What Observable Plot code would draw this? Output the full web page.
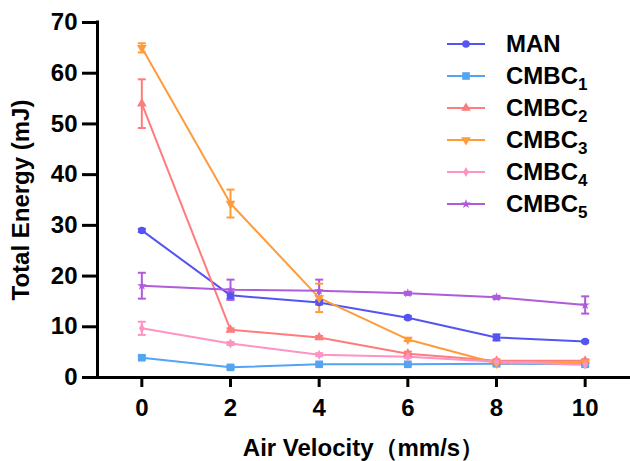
<!DOCTYPE html>
<html>
<head>
<meta charset="utf-8">
<script src="https://cdn.jsdelivr.net/npm/d3@7"></script>
<script src="https://cdn.jsdelivr.net/npm/@observablehq/plot@0.6"></script>
<style>
  body { margin: 0; background: #fff; font-family: "Liberation Sans", Arial, sans-serif; }
  #wrap { position: relative; width: 630px; height: 461px; }
  #legend { position: absolute; left: 445px; top: 28px; }
  .row { display: flex; align-items: center; height: 32px; font-weight: bold; font-size: 24px; color: #000; }
  .row svg { width: 42px; height: 20px; margin-right: 19px; }
  .row sub { font-size: 17px; vertical-align: -6px; line-height: 0; }
</style>
</head>
<body>
<div id="wrap"><div id="legend"></div></div>
<script>
// ---- data ----
const velocity = [0, 2, 4, 6, 8, 10];
const xTicks = [0, 2, 4, 6, 8, 10];
const yTicks = [0, 10, 20, 30, 40, 50, 60, 70];
const seriesNames = ["MAN", "CMBC1", "CMBC2", "CMBC3", "CMBC4", "CMBC5"];
const seriesColors = ["#5454F2", "#55A4F4", "#FF7C7C", "#FF9B3A", "#FF93C3", "#AE5BDC"];

const MAN     = [29.0, 16.2, 14.8, 11.8, 7.9, 7.1];
const CMBC1   = [3.9, 2.0, 2.6, 2.6, 2.7, 2.6];
const CMBC2   = [54.0, 9.4, 7.9, 4.7, 3.3, 3.3];
const CMBC3   = [65.0, 34.3, 15.7, 7.5, 2.8, 3.0];
const CMBC4   = [9.7, 6.7, 4.5, 4.1, 3.1, 2.5];
const CMBC5   = [18.1, 17.3, 17.1, 16.6, 15.8, 14.3];

const MAN_err   = [0.3, 0.6, 0.4, 0.3, 0.6, 0.2];
const CMBC1_err = [0.3, 0.3, 0.2, 0.2, 0.3, 0.3];
const CMBC2_err = [4.8, 0.3, 0.3, 0.4, 0.3, 0.3];
const CMBC3_err = [0.9, 2.75, 2.8, 0.3, 0.3, 0.3];
const CMBC4_err = [1.3, 0.3, 0.3, 0.3, 0.3, 0.4];
const CMBC5_err = [2.55, 2.0, 2.2, 0.3, 0.3, 1.7];

const seriesValues = [MAN, CMBC1, CMBC2, CMBC3, CMBC4, CMBC5];
const seriesErrors = [MAN_err, CMBC1_err, CMBC2_err, CMBC3_err, CMBC4_err, CMBC5_err];

const rows = seriesNames.flatMap((s, i) =>
  velocity.map((v, j) => ({series: s, v, value: seriesValues[i][j], err: seriesErrors[i][j]})));

// ---- symbols ----
const triDown = {
  draw(ctx, size) {
    const y = -Math.sqrt(size / (3 * Math.sqrt(3)));
    ctx.moveTo(0, -y * 2);
    ctx.lineTo(-Math.sqrt(3) * y, y);
    ctx.lineTo(Math.sqrt(3) * y, y);
    ctx.closePath();
  }
};
const capSymbol = {
  draw(ctx, size) {
    const w = Math.sqrt(size / Math.PI);
    ctx.moveTo(-w, 0);
    ctx.lineTo(w, 0);
  }
};
const symbols = [d3.symbolCircle, d3.symbolSquare, d3.symbolTriangle, triDown, d3.symbolDiamond, d3.symbolStar];
const symbolR = [3.8, 4.3, 3.6, 3.6, 3.0, 3.0];

const color = {domain: seriesNames, range: seriesColors};

const marks = [];
marks.push(Plot.line(rows, {x: "v", y: "value", z: "series", stroke: "series", strokeWidth: 2}));
const withErr = rows.filter(d => d.err > 0);
marks.push(Plot.ruleX(withErr, {x: "v", y1: d => d.value - d.err, y2: d => d.value + d.err, stroke: "series", strokeWidth: 2}));
marks.push(Plot.dot(withErr, {x: "v", y: d => d.value - d.err, symbol: () => capSymbol, r: 4, stroke: "series", strokeWidth: 2, fill: "none"}));
marks.push(Plot.dot(withErr, {x: "v", y: d => d.value + d.err, symbol: () => capSymbol, r: 4, stroke: "series", strokeWidth: 2, fill: "none"}));
seriesNames.forEach((s, i) => {
  marks.push(Plot.dot(rows.filter(d => d.series === s), {x: "v", y: "value", fill: "series", symbol: () => symbols[i], r: symbolR[i], stroke: "none"}));
});
marks.push(Plot.ruleX([-1], {strokeWidth: 3, stroke: "#000", strokeLinecap: "square"}));
marks.push(Plot.ruleY([0], {strokeWidth: 3, stroke: "#000", strokeLinecap: "square"}));
marks.push(Plot.axisY({ticks: yTicks, tickSize: 15, tickPadding: 5, strokeWidth: 3, fontSize: 24, fontWeight: "bold",
  label: "Total Energy (mJ)", labelAnchor: "center", labelOffset: 86, labelArrow: "none"}));
marks.push(Plot.axisX({ticks: xTicks, tickSize: 10, tickPadding: 11, strokeWidth: 3, fontSize: 24, fontWeight: "bold",
  label: "Air Velocity（mm/s）", labelAnchor: "center", labelOffset: 78, labelArrow: "none"}));

const chart = Plot.plot({
  width: 630, height: 461,
  marginLeft: 97, marginRight: 1, marginTop: 22, marginBottom: 84,
  style: {fontFamily: "'Liberation Sans', Arial, sans-serif", color: "#000", background: "#fff"},
  x: {domain: [-1, 11]},
  y: {domain: [0, 70]},
  color,
  marks
});
document.getElementById("wrap").prepend(chart);

// ---- legend ----
const legend = document.getElementById("legend");
seriesNames.forEach((s, i) => {
  const row = document.createElement("div");
  row.className = "row";
  const r = symbolR[i];
  const path = d3.symbol().type(symbols[i]).size(Math.PI * r * r)();
  const label = s === "MAN" ? "MAN" : `CMBC<sub>${s.slice(4)}</sub>`;
  row.innerHTML = `<svg viewBox="0 0 42 20"><line x1="2" x2="40" y1="10" y2="10" stroke="${seriesColors[i]}" stroke-width="2"/>` +
    `<path transform="translate(21,10)" d="${path}" fill="${seriesColors[i]}"/></svg><span>${label}</span>`;
  legend.appendChild(row);
});
</script>
</body>
</html>
